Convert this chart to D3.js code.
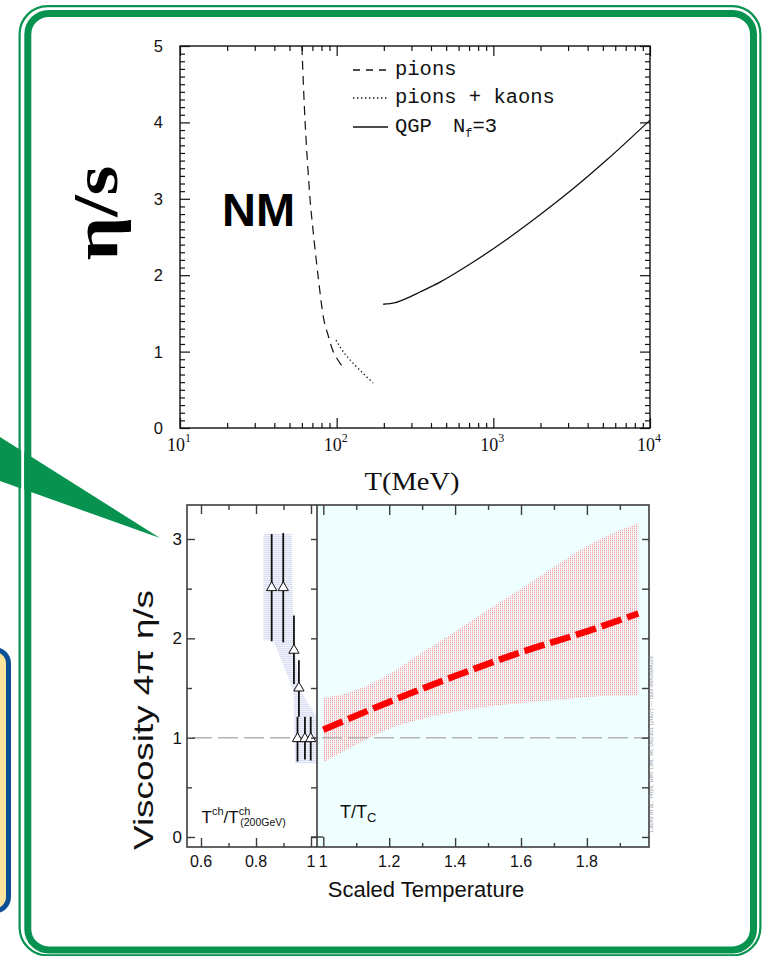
<!DOCTYPE html>
<html><head><meta charset="utf-8">
<script src="https://cdn.jsdelivr.net/npm/d3@7"></script>
<style>body{margin:0;background:#fff} svg{display:block}</style>
</head><body>
<svg id="c" width="769" height="956"></svg>
<script>
// ================= DATA =================
// Top chart: eta/s versus T (MeV)
const pionsT   = [60, 62.9, 67.6, 69.6, 76, 83, 88, 96, 110];
const pionsEta = [5, 4, 3, 2.72, 2, 1.41, 1.22, 0.98, 0.79];
const kaonsT   = [99, 110, 127, 150, 171];
const kaonsEta = [1.15, 1.0, 0.85, 0.70, 0.59];
const qgpT     = [198, 236, 281, 340, 457, 741, 1222, 1986, 3224, 5305, 10000];
const qgpEta   = [1.62, 1.64, 1.70, 1.78, 1.91, 2.17, 2.47, 2.79, 3.13, 3.51, 4.03];
const topXTicks = [10, 100, 1000, 10000];
const topXExp   = ["1", "2", "3", "4"];
const topYTicks = [0, 1, 2, 3, 4, 5];
const legendLabels = ["pions", "pions + kaons", "QGP N"];

// Bottom chart: viscosity 4*pi*eta/s versus scaled temperature
const hadronX  = [0.857, 0.899, 0.938, 0.956, 0.951, 0.978, 0.999];
const hadronY  = [2.51, 2.51, 1.88, 1.50, 0.99, 0.99, 0.99];
const hadronLo = [1.97, 1.96, 1.54, 1.21, 0.76, 0.78, 0.77];
const hadronHi = [3.05, 3.06, 2.23, 1.78, 1.21, 1.21, 1.21];
const hadronBandX = [0.827, 0.930, 0.936, 0.960, 1.02, 1.02, 0.942, 0.936, 0.863, 0.827];
const hadronBandY = [3.05, 3.05, 1.98, 1.48, 1.21, 0.74, 0.74, 1.48, 1.98, 1.98];
const qgpBandX  = [1.0, 1.1, 1.2, 1.3, 1.4, 1.5, 1.6, 1.7, 1.8, 1.956];
const qgpBandLo = [0.75, 0.93, 1.09, 1.19, 1.26, 1.31, 1.35, 1.38, 1.41, 1.43];
const qgpBandHi = [1.40, 1.48, 1.64, 1.86, 2.07, 2.29, 2.50, 2.72, 2.93, 3.16];
const qgpLineX  = [1.0, 1.2, 1.4, 1.6, 1.8, 1.956];
const qgpLineY  = [1.08, 1.36, 1.62, 1.86, 2.07, 2.25];
const bLeftXTicks  = [0.6, 0.8, 1.0];
const bLeftXLabels = ["0.6", "0.8", "1"];
const bLeftXMinor  = [0.7, 0.9];
const bRightXTicks  = [1.0, 1.2, 1.4, 1.6, 1.8];
const bRightXLabels = ["1", "1.2", "1.4", "1.6", "1.8"];
const bRightXMinor  = [1.1, 1.3, 1.5, 1.7, 1.9];
const bYTicks = [0, 1, 2, 3];
const bYMinor = [0.5, 1.5, 2.5];

// ================= DRAW =================
const svg = d3.select("#c");
const GREEN = "#07934f";
const SANS = "'Liberation Sans', Arial, Helvetica, sans-serif";
const SERIF = "'Liberation Serif', 'Times New Roman', serif";
const MONO = "'Liberation Mono', 'Courier New', monospace";

const defs = svg.append("defs");
const pk = defs.append("pattern").attr("id","pinkdots").attr("width",2).attr("height",2).attr("patternUnits","userSpaceOnUse");
pk.append("rect").attr("x",0).attr("y",0).attr("width",1).attr("height",1).attr("fill","#f4a2a2");
pk.append("rect").attr("x",0).attr("y",1).attr("width",1).attr("height",1).attr("fill","#fadcdc");
const lv = defs.append("pattern").attr("id","lavdots").attr("width",2).attr("height",2).attr("patternUnits","userSpaceOnUse");
lv.append("rect").attr("width",2).attr("height",2).attr("fill","#f1f2fb");
lv.append("rect").attr("x",0).attr("y",0).attr("width",2).attr("height",1).attr("fill","#dadef3");

// Decorations: blue box at left, green pointer wedge, green double frame
svg.append("rect").attr("x",-30).attr("y",649.5).attr("width",38.5).attr("height",261.5).attr("rx",14)
  .attr("fill","#fde49c").attr("stroke","#0d4f97").attr("stroke-width",5);
svg.append("path").attr("d","M0,437L160,538L0,481Z").attr("fill",GREEN);
svg.append("rect").attr("x",22.7).attr("y",9.3).attr("width",734.2).attr("height",943.3).attr("rx",25)
  .attr("fill","none").attr("stroke","#fff").attr("stroke-width",3);
svg.append("rect").attr("x",19.6).attr("y",6.2).attr("width",740.8).attr("height",949.2).attr("rx",28)
  .attr("fill","none").attr("stroke",GREEN).attr("stroke-width",2.2);
svg.append("rect").attr("x",27.8).attr("y",13.4).attr("width",725.7).attr("height",936.6).attr("rx",21)
  .attr("fill","none").attr("stroke",GREEN).attr("stroke-width",7);

// ---------- Top chart ----------
const tx = d3.scaleLog().domain([10, 10000]).range([180, 650]);
const ty = d3.scaleLinear().domain([0, 5]).range([428, 46]);
const T = svg.append("g");
const topMinorX = tx.ticks().filter(v => !topXTicks.includes(v));
const topMinorY = ty.ticks(50).filter(v => !topYTicks.includes(v));

function styleAxis(g, color, w) {
  g.select(".domain").remove();
  g.selectAll(".tick line").attr("stroke", color).attr("stroke-width", w);
  g.selectAll(".tick text").remove();
}
[[d3.axisBottom, 428], [d3.axisTop, 46]].forEach(([ax, y]) => {
  T.append("g").attr("transform",`translate(0,${y})`).call(ax(tx).tickValues(topXTicks).tickSize(-10).tickFormat(""))
    .call(g => styleAxis(g, "#111", 1.2));
  T.append("g").attr("transform",`translate(0,${y})`).call(ax(tx).tickValues(topMinorX).tickSize(-5).tickFormat(""))
    .call(g => styleAxis(g, "#111", 1.2));
});
[[d3.axisLeft, 180], [d3.axisRight, 650]].forEach(([ax, x]) => {
  T.append("g").attr("transform",`translate(${x},0)`).call(ax(ty).tickValues(topYTicks).tickSize(-10).tickFormat(""))
    .call(g => styleAxis(g, "#111", 1.2));
  T.append("g").attr("transform",`translate(${x},0)`).call(ax(ty).tickValues(topMinorY).tickSize(-5).tickFormat(""))
    .call(g => styleAxis(g, "#111", 1.2));
});
T.append("rect").attr("x",180).attr("y",46).attr("width",470).attr("height",382)
  .attr("fill","none").attr("stroke","#111").attr("stroke-width",1.4);

// y tick labels
T.selectAll(".ylab").data(topYTicks).join("text")
  .attr("x",163).attr("y",d => ty(d)).attr("dy","0.36em").attr("text-anchor","end")
  .attr("font-family",SANS).attr("font-size",16.5).attr("fill","#111").text(d => d);
// x tick labels with superscripts
topXTicks.forEach((v, i) => {
  const t = T.append("text").attr("x", tx(v) - 1).attr("y", 451).attr("text-anchor","middle")
    .attr("font-family",SERIF).attr("font-size",18).attr("fill","#111");
  t.append("tspan").text("10");
  t.append("tspan").attr("font-size",12).attr("dy",-9).text(topXExp[i]);
});
T.append("text").attr("x",412).attr("y",490).attr("text-anchor","middle")
  .attr("font-family",SERIF).attr("font-size",25).attr("textLength",95).attr("lengthAdjust","spacingAndGlyphs")
  .attr("fill","#111").text("T(MeV)");
T.append("text").attr("transform","translate(117,213) rotate(-90)").attr("text-anchor","middle")
  .attr("font-family",SERIF).attr("font-size",64).attr("font-weight","bold")
  .attr("textLength",95).attr("lengthAdjust","spacingAndGlyphs").attr("fill","#000").text("η/s");
T.append("text").attr("x",222).attr("y",226).attr("font-family",SANS).attr("font-weight","bold")
  .attr("font-size",47).attr("fill","#000").text("NM");

const tline = d3.line().x(d => tx(d[0])).y(d => ty(d[1])).curve(d3.curveCatmullRom.alpha(0.5));
const mline = d3.line().x(d => tx(d[0])).y(d => ty(d[1])).curve(d3.curveMonotoneX);
T.append("path").attr("d", tline(d3.zip(pionsT, pionsEta))).attr("fill","none").attr("stroke","#111")
  .attr("stroke-width",1.2).attr("stroke-dasharray","9,6");
T.append("path").attr("d", tline(d3.zip(kaonsT, kaonsEta))).attr("fill","none").attr("stroke","#111")
  .attr("stroke-width",1.3).attr("stroke-dasharray","1.4,2.6");
T.append("path").attr("d", mline(d3.zip(qgpT, qgpEta))).attr("fill","none").attr("stroke","#111")
  .attr("stroke-width",1.3);

// legend
const legY = [70, 98, 127];
const legDash = ["7,6", "1.4,2.6", null];
legendLabels.forEach((lab, i) => {
  const l = T.append("line").attr("x1",353).attr("x2",388).attr("y1",legY[i]).attr("y2",legY[i])
    .attr("stroke","#111").attr("stroke-width",1.3);
  if (legDash[i]) l.attr("stroke-dasharray", legDash[i]);
  const t = T.append("text").attr("x",395).attr("y",legY[i] + 4.5).attr("font-family",MONO)
    .attr("font-size",20.5).attr("fill","#111");
  if (i < 2) { t.text(lab); }
  else {
    t.append("tspan").text("QGP");
    t.append("tspan").attr("x",453).text("N");
    t.append("tspan").attr("font-size",12).attr("dy",5).text("f");
    t.append("tspan").attr("dy",-5).text("=3");
  }
});

// ---------- Bottom chart ----------
const by  = d3.scaleLinear().domain([0, 3]).range([837, 539]);
const bxL = d3.scaleLinear().domain([0.6, 1.0]).range([201, 311]);
const bxR = d3.scaleLinear().domain([1.0, 1.8]).range([323.3, 586.9]);
const PL = 187, PM = 317, PR = 649, PT = 505, PB = 847;
const AX = "#3c3c3c";
const B = svg.append("g");

B.append("rect").attr("x",PM).attr("y",PT).attr("width",PR-PM).attr("height",PB-PT).attr("fill","#effefe");
defs.append("clipPath").attr("id","clipL").append("rect").attr("x",PL).attr("y",PT).attr("width",PM-PL).attr("height",PB-PT);
defs.append("clipPath").attr("id","clipR").append("rect").attr("x",PM).attr("y",PT).attr("width",PR-PM).attr("height",PB-PT);

// hadron band
B.append("path").attr("clip-path","url(#clipL)")
  .attr("d", d3.line().x(d => bxL(d[0])).y(d => by(d[1]))(d3.zip(hadronBandX, hadronBandY)) + "Z")
  .attr("fill","url(#lavdots)");
// QGP band
B.append("path").attr("clip-path","url(#clipR)")
  .attr("d", d3.area().x(d => bxR(d[0])).y0(d => by(d[1])).y1(d => by(d[2])).curve(d3.curveMonotoneX)(d3.zip(qgpBandX, qgpBandLo, qgpBandHi)))
  .attr("fill","url(#pinkdots)");
// reference line at 1
B.append("line").attr("x1",192).attr("x2",PR).attr("y1",by(1)).attr("y2",by(1))
  .attr("stroke","#b4b4b4").attr("stroke-width",1.5).attr("stroke-dasharray","20,6");
// red dashed line
B.append("path").attr("d", d3.line().x(d => bxR(d[0])).y(d => by(d[1])).curve(d3.curveMonotoneX)(d3.zip(qgpLineX, qgpLineY)))
  .attr("fill","none").attr("stroke","#ff0000").attr("stroke-width",6.5).attr("stroke-dasharray","21,6");
// error bars + triangles
B.selectAll(".eb").data(d3.range(hadronX.length)).join("line")
  .attr("x1", i => bxL(hadronX[i])).attr("x2", i => bxL(hadronX[i]))
  .attr("y1", i => by(hadronLo[i])).attr("y2", i => by(hadronHi[i]))
  .attr("stroke","#111").attr("stroke-width",1.8);
B.selectAll(".tri").data(d3.range(hadronX.length)).join("path")
  .attr("transform", i => `translate(${bxL(hadronX[i])},${by(hadronY[i])})`)
  .attr("d", d3.symbol(d3.symbolTriangle, 46))
  .attr("fill","#fff").attr("stroke","#111").attr("stroke-width",1);

// axes ticks
function addAx(gen, scale, vals, size, tr) {
  B.append("g").attr("transform",tr).call(gen(scale).tickValues(vals).tickSize(size).tickFormat(""))
    .call(g => styleAxis(g, AX, 1.4));
}
addAx(d3.axisBottom, bxL, bLeftXTicks.filter(v => v < 1), -9, `translate(0,${PB})`);
addAx(d3.axisBottom, bxL, bLeftXMinor, -4, `translate(0,${PB})`);
addAx(d3.axisBottom, bxL, [1.0], -10, `translate(0,${PB})`);
addAx(d3.axisTop, bxL, bLeftXTicks, -9, `translate(0,${PT})`);
addAx(d3.axisTop, bxL, bLeftXMinor, -5, `translate(0,${PT})`);
addAx(d3.axisBottom, bxR, bRightXTicks.filter(v => v > 1), -9, `translate(0,${PB})`);
addAx(d3.axisBottom, bxR, bRightXMinor, -4, `translate(0,${PB})`);
addAx(d3.axisBottom, bxR, [1.0], -10, `translate(0,${PB})`);
addAx(d3.axisTop, bxR, bRightXTicks, -10, `translate(0,${PT})`);
addAx(d3.axisTop, bxR, bRightXMinor, -5, `translate(0,${PT})`);
addAx(d3.axisLeft, by, bYTicks, -8, `translate(${PL},0)`);
addAx(d3.axisLeft, by, bYMinor, -5, `translate(${PL},0)`);
addAx(d3.axisRight, by, bYTicks.concat(bYMinor), -6, `translate(${PM},0)`);
addAx(d3.axisRight, by, bYTicks.concat(bYMinor), -7, `translate(${PR},0)`);
B.append("line").attr("x1",bxL(1.0)).attr("x2",bxR(1.0)).attr("y1",by(0)).attr("y2",by(0))
  .attr("stroke",AX).attr("stroke-width",1.4);
B.append("rect").attr("x",PL).attr("y",PT).attr("width",PR-PL).attr("height",PB-PT)
  .attr("fill","none").attr("stroke",AX).attr("stroke-width",1.6);
B.append("line").attr("x1",PM).attr("x2",PM).attr("y1",PT).attr("y2",PB).attr("stroke",AX).attr("stroke-width",1.6);

// tick labels
B.selectAll(".byl").data(bYTicks).join("text").attr("x",182).attr("y",d => by(d)).attr("dy","0.36em")
  .attr("text-anchor","end").attr("font-family",SANS).attr("font-size",17).attr("fill","#111").text(d => d);
B.selectAll(".bxl").data(bLeftXTicks).join("text").attr("x",d => bxL(d)).attr("y",867)
  .attr("text-anchor","middle").attr("font-family",SANS).attr("font-size",16).attr("fill","#111")
  .text((d,i) => bLeftXLabels[i]);
B.selectAll(".bxr").data(bRightXTicks).join("text").attr("x",d => bxR(d)).attr("y",867)
  .attr("text-anchor","middle").attr("font-family",SANS).attr("font-size",16).attr("fill","#111")
  .text((d,i) => bRightXLabels[i]);
B.append("text").attr("x",426).attr("y",897).attr("text-anchor","middle").attr("font-family",SANS)
  .attr("font-size",22).attr("fill","#111").text("Scaled Temperature");
B.append("text").attr("transform","translate(153,720) rotate(-90)").attr("text-anchor","middle")
  .attr("font-family",SANS).attr("font-size",28).attr("textLength",260).attr("lengthAdjust","spacingAndGlyphs")
  .attr("fill","#111").text("Viscosity 4π η/s");

// in-panel labels
{
  const t = B.append("text").attr("x",201.5).attr("y",823).attr("font-family",SANS).attr("font-size",17).attr("fill","#111");
  t.append("tspan").text("T");
  t.append("tspan").attr("font-size",11).attr("dy",-8).text("ch");
  t.append("tspan").attr("dy",8).text("/T");
  t.append("tspan").attr("font-size",11).attr("dy",-8).text("ch");
  const node = t.node();
  const xEnd = 201.5 + node.getComputedTextLength();
  const supW = 11 * 0.5 * 2;
  B.append("text").attr("x", xEnd - supW + 1).attr("y",826).attr("font-family",SANS).attr("font-size",10.5)
    .attr("fill","#111").text("(200GeV)");
}
{
  const t = B.append("text").attr("x",340).attr("y",818).attr("font-family",SANS).attr("font-size",18).attr("fill","#111");
  t.append("tspan").text("T/T");
  t.append("tspan").attr("font-size",13).attr("dy",4).text("C");
}
B.append("text").attr("transform","translate(653,832) rotate(-90)").attr("font-family",SANS)
  .attr("font-size",4.5).attr("textLength",176).attr("lengthAdjust","spacingAndGlyphs")
  .attr("fill","#9a9a9a").text("Lacey et al., Phys. Rev. Lett. 98, 092301 (2007) — nucl-ex/0609025");
</script>
</body></html>
